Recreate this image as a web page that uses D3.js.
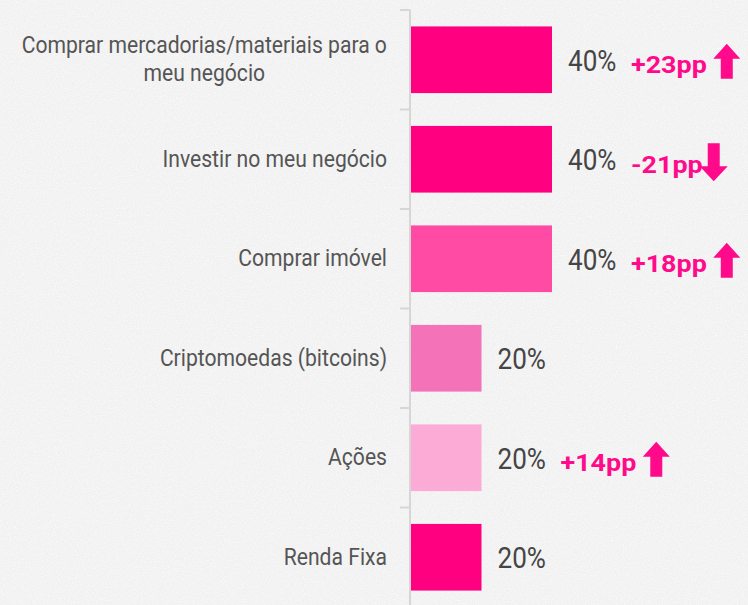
<!DOCTYPE html>
<html>
<head>
<meta charset="utf-8">
<script src="https://cdn.jsdelivr.net/npm/d3@7"></script>
<style>
  body { margin: 0; background: #f1f1f1; }
  svg { display: block; font-family: Roboto, "Noto Sans", sans-serif; }
</style>
</head>
<body>
<svg id="chart" width="748" height="605"></svg>
<script>
// data
var categories = [
  ["Comprar mercadorias/materiais para o", "meu negócio"],
  ["Investir no meu negócio"],
  ["Comprar imóvel"],
  ["Criptomoedas (bitcoins)"],
  ["Ações"],
  ["Renda Fixa"]
]
var values = [40, 40, 40, 20, 20, 20]
var changes = [23, -21, 18, null, 14, null]
var barColors = ["#ff0080", "#ff0080", "#ff4ba4", "#f472b8", "#fcaad6", "#ff0080"]

var W = 748, H = 605
var svg = d3.select("#chart")

// noisy paper background
var defs = svg.append("defs")
var f = defs.append("filter").attr("id", "noise").attr("x", 0).attr("y", 0).attr("width", "100%").attr("height", "100%")
f.append("feTurbulence").attr("type", "fractalNoise").attr("baseFrequency", 0.85).attr("numOctaves", 2).attr("stitchTiles", "stitch")
f.append("feColorMatrix").attr("type", "matrix")
  .attr("values", "0 0 0 0 1  0 0 0 0 1  0 0 0 0 1  1.8 0 0 0 -0.75")

svg.append("rect").attr("width", W).attr("height", H).attr("fill", "#f1f1f1")
svg.append("rect").attr("width", W).attr("height", H).attr("filter", "url(#noise)").attr("opacity", 0.8)

var idx = d3.range(categories.length)

var y = d3.scaleBand()
  .domain(idx)
  .range([10, 607])
  .paddingInner(0.33)
  .paddingOuter(0.165)

var x = d3.scaleLinear()
  .domain([0, 40])
  .range([411, 552])

// axis line and boundary ticks
var axisX = 410
svg.append("line")
  .attr("x1", axisX).attr("x2", axisX)
  .attr("y1", 10).attr("y2", H)
  .attr("stroke", "#d6d6d6").attr("stroke-width", 2)

svg.selectAll(".tick")
  .data(idx)
  .enter()
  .append("line")
  .attr("class", "tick")
  .attr("x1", 400).attr("x2", axisX)
  .attr("y1", function(d){ return y(d) - y.step() * y.paddingOuter() })
  .attr("y2", function(d){ return y(d) - y.step() * y.paddingOuter() })
  .attr("stroke", "#d6d6d6").attr("stroke-width", 2)

// bars
svg.selectAll(".bar")
  .data(idx)
  .enter()
  .append("rect")
  .attr("class", "bar")
  .attr("x", x(0))
  .attr("y", function(d){ return y(d) })
  .attr("width", function(d){ return x(values[d]) - x(0) })
  .attr("height", y.bandwidth())
  .attr("fill", function(d){ return barColors[d] })

function mid(d){ return y(d) + y.bandwidth() / 2 }

// category labels (condensed look: scaled horizontally)
var labelRight = 387
idx.forEach(function(d){
  var lines = categories[d]
  var g = svg.append("g")
  var lineH = 28
  var top = mid(d) + 7.5 - (lines.length - 1) * lineH / 2
  var texts = lines.map(function(t, i){
    return g.append("text")
      .attr("font-size", 24)
      .attr("fill", "#555")
      .attr("text-anchor", lines.length > 1 ? "middle" : "end")
      .attr("y", top + i * lineH)
      .text(t)
  })
  var sx = 0.88
  if (lines.length > 1) {
    var maxW = d3.max(texts, function(t){ return t.node().getComputedTextLength() })
    g.attr("transform", "translate(" + (labelRight - maxW * sx / 2) + ",0) scale(" + sx + ",1)")
  } else {
    g.attr("transform", "translate(" + labelRight + ",0) scale(" + sx + ",1)")
  }
})

// value labels
idx.forEach(function(d){
  svg.append("g")
    .attr("transform", "translate(" + (x(values[d]) + 16) + "," + (mid(d) + 11) + ") scale(0.9,1)")
    .append("text")
    .attr("font-size", 29)
    .attr("fill", "#454545")
    .text(values[d] + "%")
})

// change annotations with arrows
var pink = "#ff0a8a"
function arrowPath(cx, top, bottom, up, headW, headH, shaftW){
  var hw = headW / 2, sw = shaftW / 2
  if (up) {
    return "M" + cx + "," + top +
      "L" + (cx + hw) + "," + (top + headH) +
      "L" + (cx + sw) + "," + (top + headH) +
      "L" + (cx + sw) + "," + bottom +
      "L" + (cx - sw) + "," + bottom +
      "L" + (cx - sw) + "," + (top + headH) +
      "L" + (cx - hw) + "," + (top + headH) + "Z"
  }
  return "M" + cx + "," + bottom +
    "L" + (cx + hw) + "," + (bottom - headH) +
    "L" + (cx + sw) + "," + (bottom - headH) +
    "L" + (cx + sw) + "," + top +
    "L" + (cx - sw) + "," + top +
    "L" + (cx - sw) + "," + (bottom - headH) +
    "L" + (cx - hw) + "," + (bottom - headH) + "Z"
}

idx.forEach(function(d){
  var c = changes[d]
  if (c == null) return
  var sx = 1.17
  var tx = x(values[d]) + 79
  var g = svg.append("g")
    .attr("transform", "translate(" + tx + "," + (mid(d) + 13.5) + ") scale(" + sx + ",1)")
  var t = g.append("text")
    .attr("font-size", 23)
    .attr("font-weight", "bold")
    .attr("fill", pink)
    .text((c > 0 ? "+" : "-") + Math.abs(c) + "pp")
  var endX = tx + t.node().getComputedTextLength() * sx
  var up = c > 0
  var cx = up ? endX + 20 : endX + 11
  var top = mid(d) - 16
  var bottom = up ? mid(d) + 19 : mid(d) + 22
  svg.append("path")
    .attr("d", arrowPath(cx, top, bottom, up, up ? 27 : 28, 15, 12))
    .attr("fill", pink)
})
</script>
</body>
</html>
